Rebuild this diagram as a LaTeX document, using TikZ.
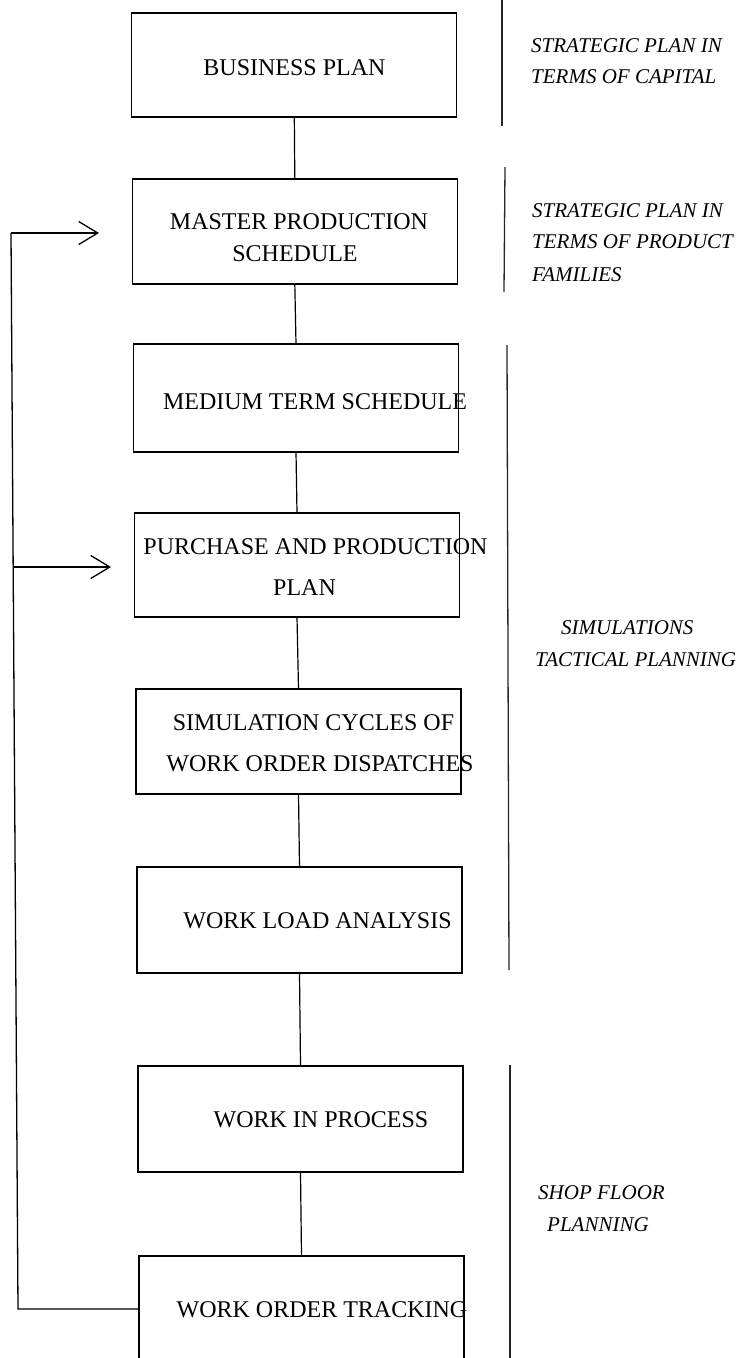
\documentclass[tikz,border=0pt]{standalone}
\usepackage{fontspec}
\setmainfont{Liberation Serif}
\usetikzlibrary{arrows.meta}
\begin{document}
\begin{tikzpicture}[x=1pt,y=-1pt,
  box/.style={draw=black, line width=1.3pt, inner sep=0pt, outer sep=0pt, minimum width=325pt},
  lbl/.style={font=\fontsize{24}{28}\selectfont, inner sep=0pt},
  side/.style={font=\fontsize{21}{25}\selectfont\itshape, inner sep=0pt, anchor=west},
  conn/.style={line width=1.2pt},
  sepline/.style={line width=1.3pt, black!85},
  fbline/.style={line width=1.3pt},
  fbarrow/.style={line width=1.3pt, -{Straight Barb[length=19pt,width=23pt,line width=1.3pt]}}
]
\useasboundingbox (0,0) rectangle (739,1358);

% boxes
\node[box, minimum height=104pt] (bp)  at (294.3,64.9) {};
\node[box, minimum height=105pt] (mps) at (294.8,231.5) {};
\node[box, minimum height=108pt] (mts) at (296,398) {};
\node[box, minimum height=104pt] (ppp) at (297,565) {};
\node[box, minimum height=105pt] (sim) at (298.5,741.5) {};
\node[box, minimum height=106pt] (wla) at (299.5,920) {};
\node[box, minimum height=106pt] (wip) at (300.5,1119) {};
\node[box, minimum height=108pt] (wot) at (301.5,1310) {};

% box texts
\node[lbl] (tbp)   at (294.5,68) {BUSINESS PLAN};
\node[lbl] (tmps1) at (299,222) {MASTER PRODUCTION};
\node[lbl] (tmps2) at (295,254) {SCHEDULE};
\node[lbl] (tmts)  at (315,402) {MEDIUM TERM SCHEDULE};
\node[lbl] (tppp1) at (315.5,547) {PURCHASE AND PRODUCTION};
\node[lbl] (tppp2) at (304.5,588) {PLAN};
\node[lbl] (tsim1) at (313.5,723) {SIMULATION CYCLES OF};
\node[lbl] (tsim2) at (320,764) {WORK ORDER DISPATCHES};
\node[lbl] (twla)  at (317.5,920.5) {WORK LOAD ANALYSIS};
\node[lbl] (twip)  at (321,1120) {WORK IN PROCESS};
\node[lbl] (twot)  at (322,1310) {WORK ORDER TRACKING};

% connectors between boxes
\draw[conn] (bp.south) -- (mps.north);
\draw[conn] (mps.south) -- (mts.north);
\draw[conn] (mts.south) -- (ppp.north);
\draw[conn] (ppp.south) -- (sim.north);
\draw[conn] (sim.south) -- (wla.north);
\draw[conn] (wla.south) -- (wip.north);
\draw[conn] (wip.south) -- (wot.north);

% feedback loop
\coordinate (fbT) at (11,233);
\coordinate (fbM) at (13.2,567);
\coordinate (fbB) at (18,1309);
\coordinate (a1) at (99,233);
\coordinate (a2) at (111,567);
\draw[fbline] (wot.west |- fbB) -- (fbB) -- (fbT);
\draw[fbarrow] (fbT) -- (a1);
\draw[fbarrow] (fbM) -- (a2);

% right separators
\draw[sepline] (502,0) -- (502,126);
\draw[sepline] (505,167) -- (504,292);
\draw[sepline] (507,345) -- (509,970);
\draw[sepline] (510,1065) -- (510,1370);

% right labels
\node[side] (s1a) at (531,46) {STRATEGIC PLAN IN};
\node[side] (s1b) at (531,77) {TERMS OF CAPITAL};
\node[side] (s2a) at (532,211) {STRATEGIC PLAN IN};
\node[side] (s2b) at (532,242) {TERMS OF PRODUCT};
\node[side] (s2c) at (532,275) {FAMILIES};
\node[side] (s3a) at (561,628) {SIMULATIONS};
\node[side] (s3b) at (535,660) {TACTICAL PLANNING};
\node[side] (s4a) at (538,1193) {SHOP FLOOR};
\node[side] (s4b) at (547,1225) {PLANNING};
\end{tikzpicture}
\end{document}
